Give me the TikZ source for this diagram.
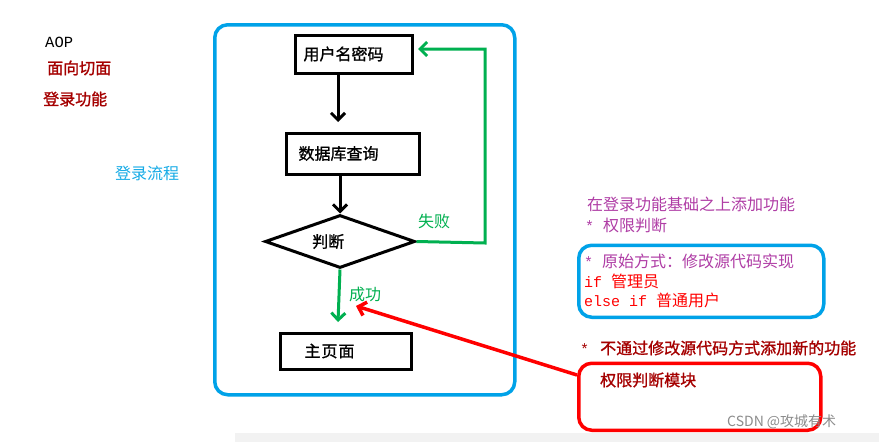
\documentclass[tikz,border=0pt]{standalone}
\usepackage{fontspec}
\setmainfont{Noto Sans CJK SC}
\newfontfamily\cjk{Noto Sans CJK SC}
\newfontfamily\cjkb{Noto Sans CJK SC}[FakeBold=1.2]
\newfontfamily\mono{Liberation Mono}
\usetikzlibrary{shapes.geometric,arrows.meta}
\definecolor{dred}{RGB}{165,0,0}
\definecolor{purp}{RGB}{175,60,165}
\definecolor{grn}{RGB}{0,176,80}
\definecolor{blu}{RGB}{0,162,232}
\definecolor{cyn}{RGB}{20,170,230}
\definecolor{rd}{RGB}{255,0,0}
\newcommand{\mst}{{\mono\fontsize{15}{18}\selectfont * }}
\tikzset{
  txt/.style={anchor=west, inner sep=0pt, font=\cjk\fontsize{16}{18}\selectfont},
  btxt/.style={anchor=west, inner sep=0pt, font=\cjkb\fontsize{16}{18}\selectfont},
  fbox/.style={draw=black, line width=3pt, rectangle, align=left, anchor=north west, inner ysep=0pt, font=\cjkb\fontsize{16}{18}\selectfont},
  barb/.style={-{Straight Barb[length=7pt,width=14pt]}},
  frame/.style={line width=3.5pt, rounded corners=13pt}
}
\begin{document}
\begin{tikzpicture}[x=1pt,y=-1pt]
\useasboundingbox (0,0) rectangle (879,442);
\fill[white] (0,0) rectangle (879,442);
\fill[black!5] (235,433) rectangle (879,442);
% left texts
\node[txt, font=\mono\fontsize{15.5}{18}\selectfont] (aop) at (45,42) {AOP};
\node[btxt, text=dred] (mx) at (47,68) {面向切面};
\node[btxt, text=dred] (dl) at (43,99) {登录功能};
\node[txt, text=cyn] (lc) at (115,173) {登录流程};
% main frame
\node[draw=blu, frame, minimum width=300pt, minimum height=370pt, anchor=north west, inner sep=0pt] (mf) at (213,23) {};
% flow boxes
\node[fbox, minimum width=117pt, minimum height=38pt, inner xsep=8.5pt, text width=100pt] (b1) at (293.5,33.5) {用户名密码};
\node[fbox, minimum width=133pt, minimum height=41pt, inner xsep=12.5pt, text width=108pt] (b2) at (284.5,131.5) {数据库查询};
\node[fbox, minimum width=131pt, minimum height=36pt, inner xsep=24.5pt, text width=82pt] (b3) at (278.5,331.5) {主\hspace{1pt}页\hspace{1pt}面};
\node[diamond, draw=black, line width=3pt, minimum width=150pt, minimum height=53pt, inner sep=0pt] (dia) at (340,241.5) {};
\node[btxt] (pd) at (312,241.5) {判断};
% black arrows
\coordinate (a1e) at (338,122);
\draw[line width=3pt, barb] (b1.south -| a1e) -- (a1e);
\draw[line width=3pt, barb] (b2.south -| dia.north) -- (dia.north);
% green
\coordinate (gr) at (485,243);
\coordinate (gt) at (418,49);
\draw[grn, line width=3pt, barb] (dia.east) -- (gr) -- (gr |- gt) -- (gt);
\node[txt, text=grn] (sb) at (418,221) {失败};
\coordinate (gd) at (338,322);
\draw[grn, line width=3pt, barb] (dia.south) -- (gd);
\node[txt, text=grn] (cg) at (349,294) {成功};
% right texts
\node[txt, text=purp] (r1) at (587,204) {在登录功能基础之上添加功能};
\node[txt, text=purp] (r2) at (585,225) {\mst 权限判断};
\node[draw=blu, frame, minimum width=245pt, minimum height=72pt, anchor=north west, inner sep=0pt] (bf) at (577,243.5) {};
\node[txt, text=purp] (r3) at (584,261) {\mst 原始方式：修改源代码实现};
\node[txt, text=rd] (r4) at (584,281) {{\mono\fontsize{15}{18}\selectfont if }管理员};
\node[txt, text=rd] (r5) at (584,300) {{\mono\fontsize{15}{18}\selectfont else if }普通用户};
\node[btxt, text=dred] (r6) at (580,348) {\mst\hspace{2pt}不通过修改源代码方式添加新的功能};
\node[draw=rd, frame, minimum width=242pt, minimum height=67pt, anchor=north west, inner sep=0pt] (rf) at (577,361.5) {};
\node[btxt, text=dred] (r7) at (600,380) {权限判断模块};
\coordinate (rs) at (577,375);
\coordinate (rt) at (356,306);
\draw[rd, line width=3.5pt, barb] (rs) -- (rt);
\node[txt, text=black!45, font=\cjk\fontsize{14}{16}\selectfont] (wm) at (727,422) {CSDN @攻城有术};
\end{tikzpicture}
\end{document}
